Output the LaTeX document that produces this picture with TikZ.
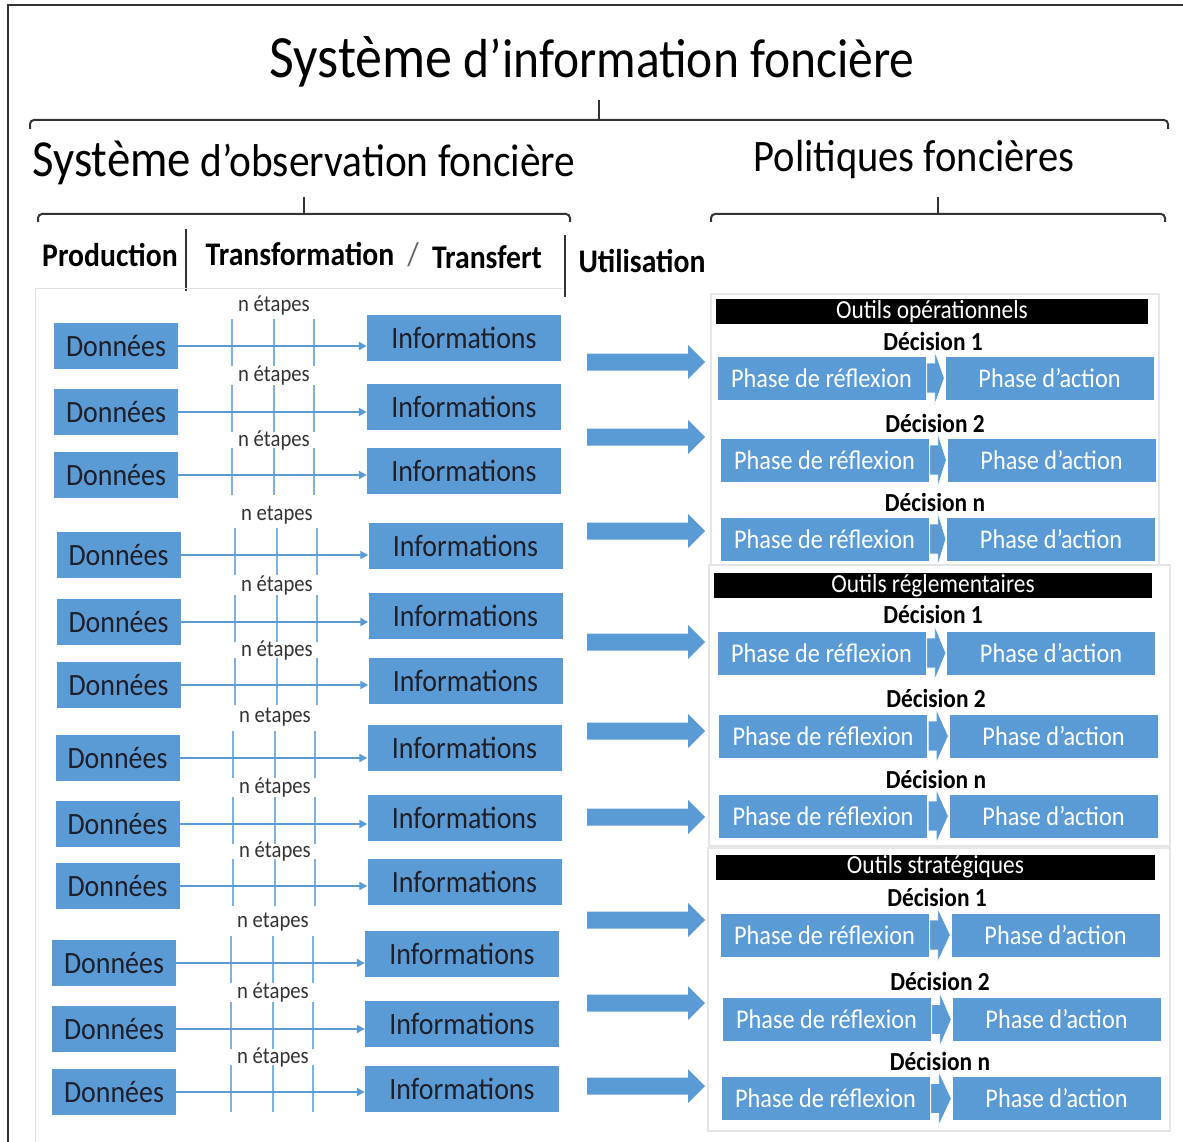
\documentclass[tikz,border=0pt]{standalone}
\usepackage{fontspec}
\setmainfont{Carlito}[FakeStretch=0.9]
\usetikzlibrary{arrows.meta,calc}
\definecolor{myblue}{HTML}{5B9BD5}
\definecolor{tickblue}{HTML}{7FB0E0}
\definecolor{txtdark}{HTML}{1F1F2A}
\newcommand{\fsz}[1]{\fontsize{#1}{#1}\selectfont}
\newcommand{\prow}[7]{%
  \node[phase] (#1r) at (#3,#2) {Phase de réflexion};
  \node[phase] (#1a) at (#4,#2) {Phase d’action};
  \node[dec] (#1d) at (#5,#6) {Décision #7};
  \fill[myblue, draw=white, line width=0.6] ($(#1r.east)+(1,-15)$) -- ($(#1r.east)+(9,-15)$) -- ($(#1r.east)+(9,-27)$) -- ($(#1a.west)+(-1,0)$) -- ($(#1r.east)+(9,27)$) -- ($(#1r.east)+(9,15)$) -- ($(#1r.east)+(1,15)$) -- cycle;
}
\begin{document}
\begin{tikzpicture}[x=1pt,y=-1pt,
  dbox/.style={fill=myblue, minimum width=124, minimum height=46, inner sep=0, text=txtdark, font=\fsz{31}},
  ibox/.style={fill=myblue, minimum width=194, minimum height=46, inner sep=0, text=txtdark, font=\fsz{31}},
  phase/.style={fill=myblue, minimum width=208, minimum height=43, inner sep=0, text=white, font=\fsz{27}},
  hdr/.style={fill=black, text=white, minimum height=25, inner sep=0, font=\fsz{26}},
  dec/.style={font=\bfseries\fsz{26}, inner sep=0},
  etap/.style={font=\fsz{23}, text=black!80, inner sep=0},
  tick/.style={draw=tickblue, line width=2},
  conn/.style={draw=myblue, line width=2.5, -{Triangle[length=8,width=8]}},
  hd/.style={font=\bfseries\fsz{33}, inner sep=0},
  brace/.style={line width=2, draw=black!80, rounded corners=4},
  frame/.style={line width=2.2, draw=black!80},
  panel/.style={draw=black!10, line width=1.2, fill=white}]
\useasboundingbox (0,0) rectangle (1183,1142);
\fill[white] (0,0) rectangle (1183,1142);
% frame
\draw[frame] (8,1142) -- (8,5) -- (1183,5);
% titles
\node[inner sep=0, font=\fsz{55}] (t0) at (592,62) {{\fsz{60}Système} d’information foncière};
\node[inner sep=0, font=\fsz{46}] (t1) at (304,163) {{\fsz{52}Système} d’observation foncière};
\node[inner sep=0, font=\fsz{45}] (t2) at (914,160) {Politiques foncières};
% braces
\draw[brace] (30,129) -- (30,120) -- (1168,120) -- (1168,129);
\draw[brace] (599,120) -- (599,100);
\draw[brace] (38,222) -- (38,214) -- (570,214) -- (570,222);
\draw[brace] (304,214) -- (304,197);
\draw[brace] (711,222) -- (711,214) -- (1165,214) -- (1165,222);
\draw[brace] (938,214) -- (938,197);
% header row
\node[hd] (hP) at (110,255) {Production};
\node[hd] (hT) at (300,254) {Transformation};
\node[inner sep=0, font=\fsz{33}, text=black!60] (hS) at (413,255) {/};
\node[hd] (hF) at (487,257) {Transfert};
\node[hd] (hU) at (642,261) {Utilisation};
\draw[frame] (186,229) -- (186,291);
\draw[frame] (565,235) -- (565,297);
% left panel
\draw[black!12, line width=1] (35,1142) -- (35,288) -- (563,288);
\foreach \n/\dx/\dy/\ix/\iy/\tx/\ly/\lab in {
1/116/346/464/338/232/305/étapes,
2/116/412/464/407/232/375/étapes,
3/116/475/464/471/232/440/étapes,
4/118.5/555/465.5/546/235/515/etapes,
5/118.5/622/465.5/616/235/585/étapes,
6/118.5/685/465.5/681/235/650/étapes,
7/117.5/758/464.5/748/233/717/etapes,
8/117.5/824/464.5/818/233/787/étapes,
9/117.5/886/464.5/882/233/851/étapes,
10/114/963/462/954/231/922/etapes,
11/114/1029/462/1024/231/992/étapes,
12/114/1092/462/1089/231/1057/étapes}
{
  \node[dbox] (d\n) at (\dx,\dy) {Données};
  \node[ibox] (i\n) at (\ix,\iy) {Informations};
  \foreach \k in {0,42,82} \draw[tick] (\tx+\k,\dy-27) -- (\tx+\k,\dy+20);
  \draw[conn] (d\n.east) -- (d\n.east -| i\n.west);
  \node[etap] (e\n) at (\tx+42,\ly) {n \lab};
}
% big arrows
\foreach \y in {362,437,531,642,731,817,920,1003,1086}
  \fill[myblue] (587,\y-8.5) -- (688,\y-8.5) -- (688,\y-17) -- (705,\y) -- (688,\y+17) -- (688,\y+8.5) -- (587,\y+8.5) -- cycle;
% right panels
\draw[panel] (711,294) rectangle (1159,567);
\node[hdr, minimum width=432] (h1) at (932,311.5) {Outils opérationnels};
\prow{pa}{378}{821.5}{1049.5}{933}{341}{1}
\prow{pb}{460}{824.5}{1051.5}{935}{423}{2}
\prow{pc}{539}{824.5}{1051}{935}{502}{n}
\draw[panel] (709,565) rectangle (1170,846);
\node[hdr, minimum width=438] (h2) at (933,585.5) {Outils réglementaires};
\prow{pd}{653}{821.5}{1051}{933}{614}{1}
\prow{pe}{736}{823}{1053.5}{936}{698}{2}
\prow{pf}{816}{823}{1053.5}{936}{779}{n}
\draw[panel] (708,848) rectangle (1170,1131);
\node[hdr, minimum width=439] (h3) at (935.5,867) {Outils stratégiques};
\prow{pg}{935}{824.5}{1055.5}{937}{897}{1}
\prow{ph}{1019.5}{826.5}{1056.5}{940}{981}{2}
\prow{pi}{1098.5}{825.5}{1056.5}{940}{1061}{n}
\end{tikzpicture}
\end{document}
